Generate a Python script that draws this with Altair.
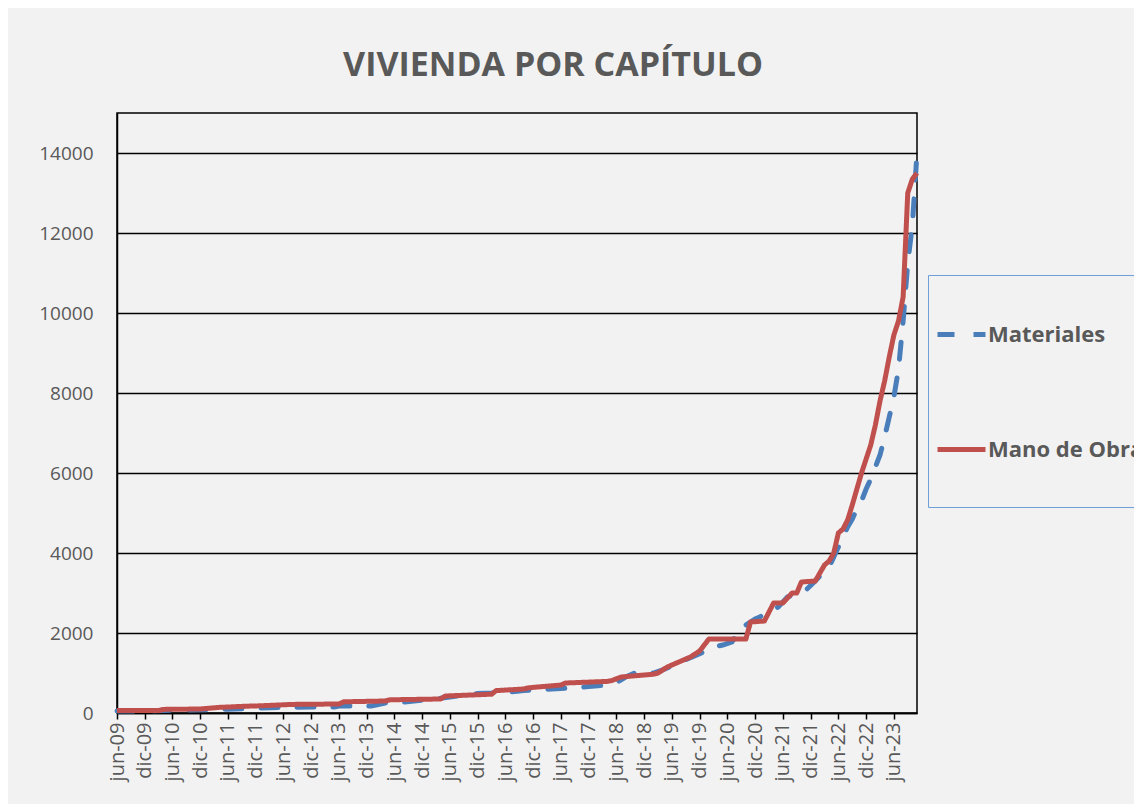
import altair as alt
import pandas as pd

# ---- data (month index 0 = jun-09, monthly up to nov-23) ----
TICK_LABELS = ["jun-09", "dic-09", "jun-10", "dic-10", "jun-11", "dic-11", "jun-12",
               "dic-12", "jun-13", "dic-13", "jun-14", "dic-14", "jun-15", "dic-15",
               "jun-16", "dic-16", "jun-17", "dic-17", "jun-18", "dic-18", "jun-19",
               "dic-19", "jun-20", "dic-20", "jun-21", "dic-21", "jun-22", "dic-22",
               "jun-23"]

MAT_MONTHS = [0, 8, 12, 18, 24, 30, 36, 42, 47, 48, 55, 58, 62, 66, 70, 74, 78, 81,
              84, 86, 88, 90, 94, 98, 102, 104, 106, 108, 110, 112, 114, 116, 118,
              120, 122, 124, 126, 128, 129, 131, 133, 134, 135, 136, 138, 139, 141,
              143, 145, 147, 149, 151, 153, 154, 155, 156, 157, 158, 159, 160, 161,
              162, 163, 164, 165, 166, 167, 168, 169, 170, 171, 172, 173]
MAT_VALUES = [50, 55, 70, 80, 95, 120, 140, 150, 150, 175, 175, 250, 275, 320, 370,
              430, 490, 500, 520, 540, 560, 580, 600, 625, 660, 680, 700, 760, 900,
              1000, 1000, 1000, 1080, 1180, 1290, 1380, 1480, 1600, 1650, 1700, 1780,
              1950, 2150, 2200, 2350, 2400, 2550, 2650, 2900, 2980, 3075, 3300, 3550,
              3650, 3900, 4150, 4400, 4650, 4850, 5100, 5300, 5600, 5850, 6150, 6450,
              6900, 7400, 7900, 8600, 9800, 11250, 12200, 14000]

MO_MONTHS = [0, 9, 10, 18, 22, 24, 28, 31, 35, 38, 48, 49, 58, 59, 70, 71, 81, 82,
             88, 89, 96, 97, 106, 107, 109, 116, 117, 119, 120, 124, 126, 128, 136,
             137, 140, 142, 144, 146, 147, 148, 151, 153, 154, 155, 156, 157, 158,
             159, 160, 161, 162, 163, 164, 165, 166, 167, 168, 169, 170, 171, 172, 173]
MO_VALUES = [60, 60, 90, 100, 140, 150, 170, 180, 200, 215, 225, 280, 300, 330, 350,
             425, 470, 560, 600, 630, 700, 750, 790, 810, 900, 970, 1000, 1150, 1200,
             1400, 1550, 1850, 1850, 2275, 2300, 2750, 2750, 3000, 3000, 3275, 3300,
             3700, 3800, 4000, 4500, 4600, 4825, 5200, 5600, 6000, 6350, 6700, 7200,
             7800, 8300, 8900, 9450, 9800, 10400, 13000, 13350, 13500]

SERIES = ["Materiales", "Mano de Obra"]
COLORS = ["#4a7ebb", "#c0504d"]

mat = pd.DataFrame({"mes": MAT_MONTHS, "valor": MAT_VALUES, "serie": SERIES[0]})
mo = pd.DataFrame({"mes": MO_MONTHS, "valor": MO_VALUES, "serie": SERIES[1]})

FONT = "Open Sans"
GREY = "#595959"

label_array = "[" + ",".join("'%s'" % t for t in TICK_LABELS) + "]"

legend = alt.Legend(
    title=" ", titleFontSize=10, titlePadding=16,
    orient="none", legendX=811, legendY=162,
    padding=7, strokeColor="#6f9fd8", fillColor="#f2f2f2",
    labelFont=FONT, labelFontSize=22, labelFontWeight="bold", labelColor=GREY,
    labelOffset=0, labelLimit=400,
    symbolType="M-1,-1M-1,0H1M1,1.6667", symbolSize=2304,
    symbolStrokeWidth=5, rowPadding=30,
)

x = alt.X("mes:Q", title=None,
          scale=alt.Scale(domain=[0, 173], nice=False, zero=False),
          axis=alt.Axis(values=list(range(0, 169, 6)),
                        labelExpr=label_array + "[round(datum.value/6)]",
                        labelAngle=270, labelFont=FONT, labelFontSize=20,
                        labelColor=GREY, labelPadding=3,
                        ticks=True, tickSize=6, tickColor="black", tickWidth=1.5,
                        domainColor="black", domainWidth=1.5, grid=False))
y = alt.Y("valor:Q", title=None,
          scale=alt.Scale(domain=[0, 15000], nice=False),
          axis=alt.Axis(values=list(range(0, 14001, 2000)), format="d",
                        labelFont=FONT, labelFontSize=19, labelColor=GREY,
                        labelPadding=24, ticks=False,
                        domainColor="black", domainWidth=1.5,
                        grid=True, gridColor="black", gridWidth=1.3, gridOpacity=1))
color = alt.Color("serie:N", scale=alt.Scale(domain=SERIES, range=COLORS), legend=legend)
dash = alt.StrokeDash("serie:N", scale=alt.Scale(domain=SERIES, range=[[17, 19], [1, 0]]),
                      legend=legend)

blue = alt.Chart(mat).mark_line(strokeWidth=5, strokeCap="round").encode(
    x=x, y=y, color=color, strokeDash=dash)
red = alt.Chart(mo).mark_line(strokeWidth=5, strokeJoin="round").encode(
    x=x, y=y, color=color, strokeDash=dash)

chart = alt.layer(blue, red).properties(
    width=800, height=600,
    autosize=alt.AutoSizeParams(type="none"),
    padding={"left": 109, "top": 105, "right": 217, "bottom": 91},
    background="#f2f2f2",
    title=alt.TitleParams("VIVIENDA POR CAPÍTULO", font=FONT, fontSize=34,
                          fontWeight="bold", color=GREY, anchor="middle",
                          dx=36, offset=30),
).configure_view(stroke="black", strokeWidth=1.5, fill="#f2f2f2")

chart.save("out.html", embed_options={"renderer": "svg", "actions": False})
